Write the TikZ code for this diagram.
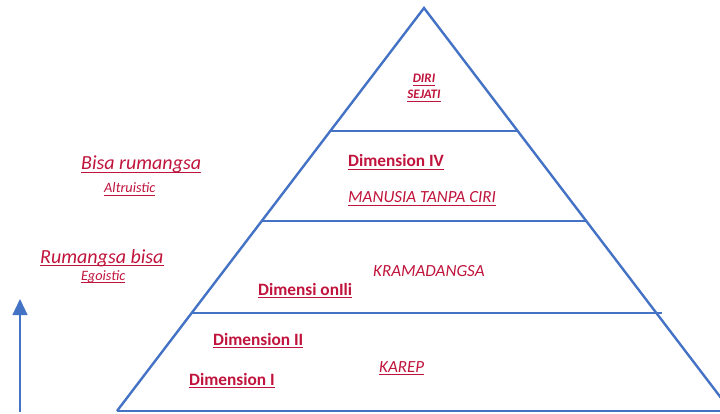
\documentclass[tikz,border=0pt]{standalone}
\usepackage{fontspec}
\setmainfont{Carlito}
\usetikzlibrary{arrows.meta}
\definecolor{lineblue}{RGB}{68,114,196}
\definecolor{txtred}{RGB}{192,20,60}
\newcommand{\myul}[1]{\leavevmode\setbox0\hbox{#1}\rlap{\vrule height -2.2pt depth 3.1pt width \wd0}\box0}
\tikzset{
  lbl/.style={inner sep=0pt, anchor=base west, text=txtred},
  bold17/.style={lbl, font=\fontsize{17.3}{20}\selectfont\bfseries},
  ital17/.style={lbl, font=\fontsize{17}{20}\selectfont\itshape},
  ital20/.style={lbl, font=\fontsize{20}{22}\selectfont\itshape},
  ital14/.style={lbl, font=\fontsize{14.3}{16}\selectfont\itshape},
  top13/.style={inner sep=0pt, anchor=base, text=txtred, font=\fontsize{13}{15}\selectfont\bfseries\itshape},
  side/.style={draw=lineblue, line width=2.4pt},
  level/.style={draw=lineblue, line width=1.4pt},
}
\begin{document}
\begin{tikzpicture}[x=1pt,y=-1pt]
\useasboundingbox (0,0) rectangle (720,414);
% pyramid
\coordinate (apex) at (424,8);
\coordinate (bl) at (117,411);
\coordinate (br) at (731,411);
\begin{scope}
\clip (0,0) rectangle (720,414);
\draw[side, line join=miter] (bl) -- (apex) -- (br);
\draw[side] (bl) -- (br);
\end{scope}
\coordinate (l1a) at (330,131); \coordinate (l1b) at (518,131);
\coordinate (l2a) at (262,221); \coordinate (l2b) at (586,221);
\coordinate (l3a) at (192,313); \coordinate (l3b) at (662,313);
\draw[level] (l1a) -- (l1b);
\draw[level] (l2a) -- (l2b);
\draw[level] (l3a) -- (l3b);
% arrow
\coordinate (ab) at (20,412);
\coordinate (at) at (20,299);
\draw[draw=lineblue, line width=1.3pt, -{Triangle[length=16pt,width=15pt]}] (ab) -- (at);
% texts
\node[top13] (diri) at (424,83) {\myul{DIRI}};
\node[top13] (sejati) at (424,99) {\myul{SEJATI}};
\node[bold17] (d4) at (348,167) {\myul{Dimension IV}};
\node[ital17] (mtc) at (348,203) {\myul{MANUSIA TANPA CIRI}};
\node[ital17] (kram) at (373,276) {KRAMADANGSA};
\node[bold17] (d3) at (258,295) {\myul{Dimensi onIli}};
\node[bold17] (d2) at (213,345) {\myul{Dimension II}};
\node[bold17] (d1) at (189,385) {\myul{Dimension I}};
\node[ital17] (karep) at (379,372) {\myul{KAREP}};
\node[ital20] (bisa) at (81,170) {\myul{Bisa rumangsa}};
\node[ital14] (altr) at (104,193) {\myul{Altruistic}};
\node[ital20] (rum) at (40,263) {\myul{Rumangsa bisa}};
\node[ital14] (ego) at (81,280) {\myul{Egoistic}};
\end{tikzpicture}
\end{document}
